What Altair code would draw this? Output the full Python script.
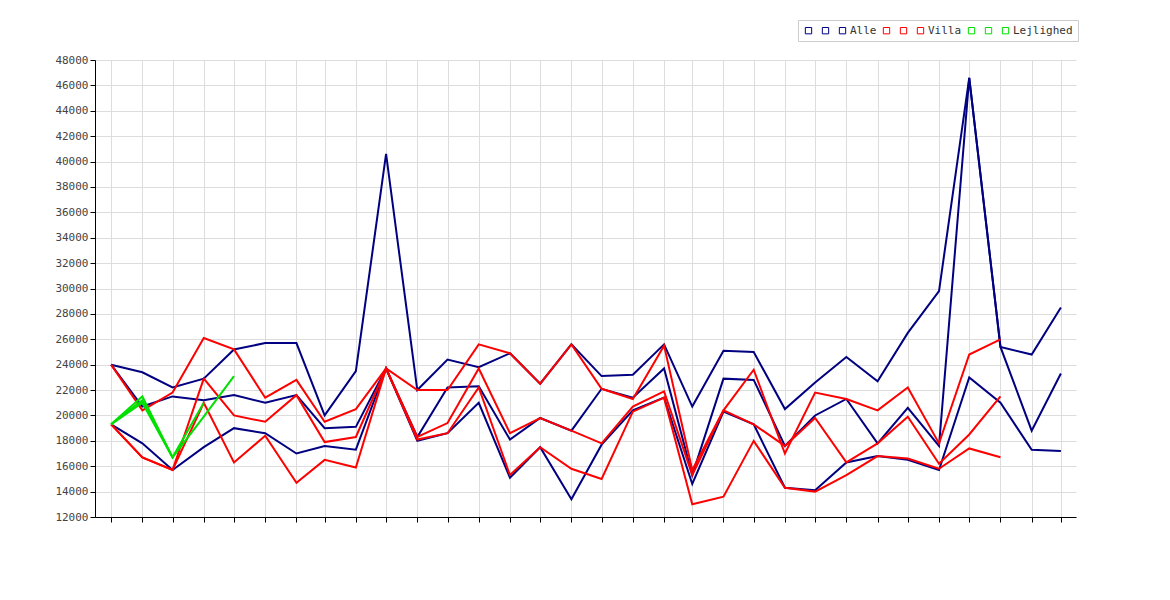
import altair as alt
import pandas as pd

months = pd.date_range("2021-08-01", "2024-03-01", freq="MS").strftime("%Y-%m-%d").tolist()

alle_1 = [24000, 23400, 22200, 22900, 25200, 25700, 25700, 20000, 23500, 40600, 22000, 24400,
          23800, 24900, 22500, 25600, 23100, 23200, 25600, 20700, 25100, 25000, 20500, 22600,
          24600, 22700, 26500, 29800, 46600, 25400, 24800, 28500]
alle_2 = [24000, 20700, 21500, 21200, 21600, 21000, 21600, 19000, 19100, 23700, 18300, 22200,
          22300, 18100, 19800, 18800, 22100, 21400, 23700, 15300, 22900, 22800, 17600, 20000,
          21300, 17800, 20600, 17600, 46600, 25400, 18800, 23300]
alle_3 = [19300, 17800, 15700, 17500, 19000, 18600, 17000, 17600, 17300, 23700, 18000, 18600,
          21000, 15100, 17500, 13400, 17700, 20400, 21400, 14600, 20300, 19300, 14300, 14100,
          16300, 16800, 16500, 15700, 23000, 21000, 17300, 17200]
villa_1 = [24000, 20400, 21800, 26100, 25200, 21400, 22800, 19500, 20500, 23700, 22000, 22000,
           25600, 24900, 22500, 25600, 22100, 21300, 25500, 15700, 20400, 23600, 17000, 21800,
           21300, 20400, 22200, 17800, 24800, 26000]
villa_2 = [19300, 16700, 15700, 22900, 20000, 19500, 21600, 17900, 18300, 23700, 18300, 19400,
           23700, 18600, 19800, 18800, 17800, 20700, 21900, 15300, 20400, 19300, 17600, 19800,
           16300, 17800, 19900, 16200, 18500, 21500]
villa_3 = [19300, 16700, 15700, 21000, 16300, 18400, 14700, 16500, 15900, 23700, 18100, 18600,
           22200, 15300, 17500, 15800, 15000, 20300, 21400, 13000, 13600, 18000, 14300, 14000,
           15300, 16800, 16600, 15800, 17400, 16700]
lejl_1 = [19300, 21500, 16700, 19900, 23100]
lejl_2 = [19300, 21000, 16700, 21000]
lejl_3 = [19300, 21200, 16700]

series = [("Alle 1", alle_1), ("Alle 2", alle_2), ("Alle", alle_3),
          ("Villa 1", villa_1), ("Villa 2", villa_2), ("Villa", villa_3),
          ("Lejlighed 1", lejl_1), ("Lejlighed 2", lejl_2), ("Lejlighed", lejl_3)]
colors = ["#000080"] * 3 + ["#ff0000"] * 3 + ["#00e000"] * 3

rows = []
for name, vals in series:
    for m, v in zip(months, vals):
        rows.append({"date": m, "value": v, "serie": name})
df = pd.DataFrame(rows)

font = "DejaVu Sans Mono"

chart = alt.Chart(df).mark_line(strokeWidth=2).encode(
    x=alt.X("date:T", title=None,
            scale=alt.Scale(type="utc", domain=["2021-07-16", "2024-03-16"], nice=False),
            axis=alt.Axis(tickCount={"interval": "month", "step": 1}, labelAngle=-90,
                          labelExpr="utcmonth(datum.value) % 3 == 0 ? utcFormat(datum.value, '%Y-%m') : ''",
                          labelAlign="right", labelBaseline="middle", labelPadding=8,
                          tickColor="#000", domainColor="#000", tickSize=5)),
    y=alt.Y("value:Q", title=None,
            scale=alt.Scale(domain=[12000, 48000], nice=False),
            axis=alt.Axis(values=list(range(12000, 48001, 2000)), format="d",
                          domainColor="#000", tickColor="#000", tickSize=5)),
    color=alt.Color("serie:N", scale=alt.Scale(domain=[s[0] for s in series], range=colors),
                    legend=alt.Legend(title=None, orient="none", legendX=703, legendY=-40,
                                      direction="horizontal", symbolType="square", symbolSize=40,
                                      symbolStrokeWidth=1, symbolStrokeColor="#333",
                                      labelExpr="indexof(datum.label, ' ') > 0 ? '' : datum.label",
                                      columnPadding=4, labelOffset=2,
                                      strokeColor="#ccc", padding=5, fillColor="#fff",
                                      labelFont=font, labelFontSize=11, labelColor="#333")),
    detail="serie:N",
).properties(
    width=981, height=457,
    autosize=alt.AutoSizeParams(type="none"),
    padding={"left": 87, "top": 52, "right": 10, "bottom": 10},
).configure_axis(
    labelFont=font, labelFontSize=11, labelColor="#444",
    gridColor="#dddddd", gridWidth=1,
).configure_view(strokeWidth=0)

chart.save("out.html", embed_options={"renderer": "svg", "actions": False})
